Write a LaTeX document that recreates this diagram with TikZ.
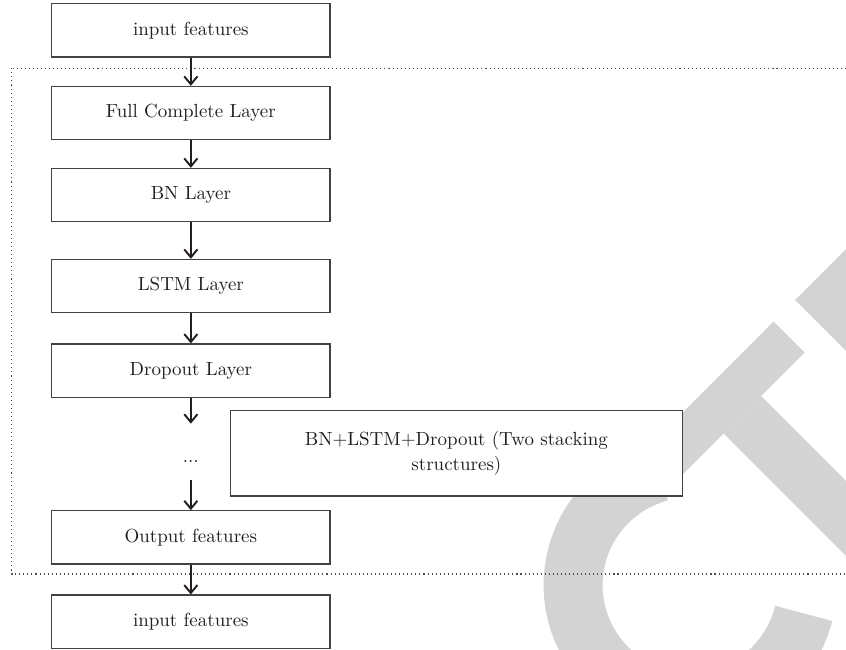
\documentclass[tikz,border=0pt]{standalone}
\usepackage{tikz}
\usetikzlibrary{arrows.meta}

\definecolor{wmgray}{RGB}{211,211,211}
\definecolor{inkgray}{RGB}{35,31,32}

\tikzset{
  layerbox/.style={draw=inkgray!85, line width=0.6pt, fill=white, text=inkgray,
    minimum width=5.566cm, minimum height=1.066cm, inner sep=0pt,
    font=\fontsize{10.8}{14}\selectfont},
  flowarrow/.style={draw=inkgray, line width=1.1pt,
    -{Straight Barb[length=4.5pt,width=7.5pt]}},
  groupline/.style={draw=inkgray!80, line width=0.6pt, dash pattern=on 0.6pt off 1.7pt},
}

\begin{document}
\begin{tikzpicture}
\useasboundingbox (0,0) rectangle (16.92,-13);

% watermark behind the chart
\begin{scope}[x=0.02cm, y=-0.02cm]
\clip (0,0) rectangle (846,650);
\fill[wmgray] (773.5,321.5) -- (804.5,352.5) -- (680,477) -- (649,446) -- cycle;
\fill[wmgray] (761,396) -- (982.5,617.5) -- (945,655) -- (723.5,433.5) -- cycle;
\fill[wmgray] (795,300) -- (847.5,247.5) -- (900,300) -- (900,405) -- cycle;
\draw[wmgray, line width=1.18cm] (690,585) ++(-105:117) arc[start angle=-105, end angle=-346, radius=117];
\end{scope}

% dotted group frame
\draw[groupline] (0.234,-1.366) rectangle (17.3,-11.48);

\node[layerbox] (in1) at (3.817,-0.607) {input features};
\node[layerbox] (fcl) at (3.817,-2.26) {Full Complete Layer};
\node[layerbox] (bn) at (3.817,-3.9) {BN Layer};
\node[layerbox] (lstm) at (3.817,-5.72) {LSTM Layer};
\node[layerbox] (drop) at (3.817,-7.413) {Dropout Layer};
\node[inner sep=0pt, text height=0.78cm, text depth=0.34cm, text=inkgray, font=\fontsize{10.8}{14}\selectfont] (dots) at (3.817,-9.04) {...};
\node[layerbox] (out) at (3.817,-10.747) {Output features};
\node[layerbox] (in2) at (3.817,-12.433) {input features};

\node[layerbox, minimum width=9.026cm, minimum height=1.706cm, align=center] (stack) at (9.128,-9.067) {BN+LSTM+Dropout (Two stacking\\structures)};

% main flow
\draw[flowarrow] (in1) -- (fcl);
\draw[flowarrow] (fcl) -- (bn);
\draw[flowarrow] (bn) -- (lstm);
\draw[flowarrow] (lstm) -- (drop);
\draw[flowarrow] (drop) -- (dots);
\draw[flowarrow] (dots) -- (out);
\draw[flowarrow] (out) -- (in2);

\end{tikzpicture}
\end{document}
